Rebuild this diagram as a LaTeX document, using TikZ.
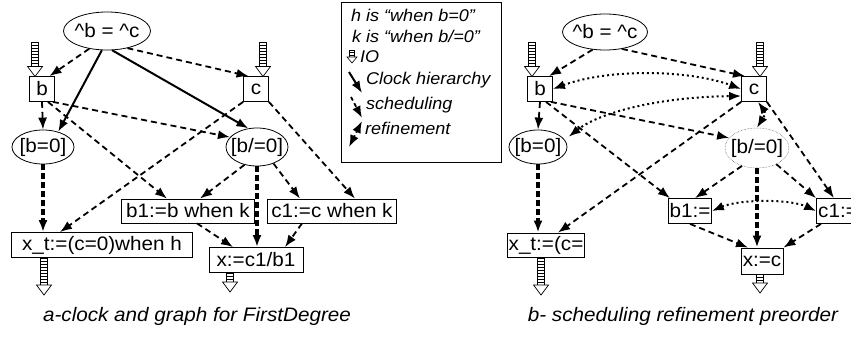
\documentclass[tikz,border=0pt]{standalone}
\usepackage{fontspec}
\setmainfont[FakeStretch=1.06]{Liberation Sans}
\usetikzlibrary{shapes.geometric,arrows.meta,calc}
\newcommand\ndfont{\fontsize{19.5}{21}\selectfont}
\newcommand\lgfont{\fontsize{17}{19}\selectfont\itshape}
\newcommand\capfont{\fontsize{19.5}{22}\selectfont\itshape}
\begin{document}
\begin{tikzpicture}[x=1pt,y=-1pt,
  lbl/.style={font=\ndfont, inner sep=1pt, line width=0.8pt, draw},
  rbox/.style={lbl, rectangle, minimum height=25pt},
  ell/.style={lbl, ellipse, inner sep=0pt},
  etext/.style={label={[font=\ndfont, inner sep=0pt]center:#1}},
  arrtip/.style={-{Latex[length=12pt,width=9pt]}},
  sched/.style={line width=1.8pt, dash pattern=on 6pt off 4pt, arrtip},
  clock/.style={line width=2pt, arrtip},
  heavy/.style={line width=3.5pt, dash pattern=on 6pt off 3pt, arrtip},
  refine/.style={line width=2pt, dash pattern=on 2pt off 3pt, {Latex[length=12pt,width=9pt]}-{Latex[length=12pt,width=9pt]}},
  lg/.style={font=\lgfont, inner sep=0pt, anchor=west},
  captext/.style={font=\capfont, inner sep=0pt},
  pics/io/.style={code={
    \pgfmathsetmacro\iotop{-#1}
    \draw[line width=0.6pt] (-3.5,\iotop) rectangle (3.5,-10);
    \foreach \yy in {-13,-16,...,\iotop} \draw[line width=0.6pt] (-3.5,\yy) -- (3.5,\yy);
    \draw[line width=0.7pt, fill=white] (-7.5,-10) -- (7.5,-10) -- (0,0) -- cycle;
  }}
]
\useasboundingbox (0,0) rectangle (851,337);
\clip (0,0) rectangle (851,337);

% ---------- left graph ----------
\node[ell, minimum width=87pt, minimum height=38pt, etext={\textasciicircum b = \textasciicircum c}] (lt) at (107,31) {};
\node[rbox, minimum width=25pt] (lb) at (42,89) {b};
\node[rbox, minimum width=25pt] (lc) at (256,89) {c};
\node[ell, minimum width=62pt, minimum height=34pt, etext={[b=0]}] (lh0) at (43,147) {};
\node[ell, minimum width=62pt, minimum height=38pt, etext={[b/=0]}] (lhn) at (257,147) {};
\node[rbox, minimum width=133pt, minimum height=24pt] (lb1) at (188,211) {b1:=b when k};
\node[rbox, minimum width=129pt, minimum height=24pt] (lc1) at (332,211) {c1:=c when k};
\node[rbox, minimum width=181pt] (lxt) at (102,245) {x\_t:=(c=0)when h};
\node[rbox, minimum width=94pt] (lx) at (256,260) {x:=c1/b1};

\draw[sched] (lt.225) -- (lb.60);
\draw[sched] (lt.320) -- (lc.120);
\draw[clock] (lt.255) -- (lh0.45);
\draw[clock] (lt.285) -- (lhn.115);
\draw[sched] (lb.south) -- (lh0.north);
\draw[sched] (lb.-50) -- (lhn.160);
\draw[sched] (lb.-65) -- ([xshift=-21pt]lb1.north);
\draw[sched] (lc.south west) -- ([xshift=-42pt]lxt.north);
\draw[sched] (lc.south east) -- ([xshift=23pt]lc1.north);
\draw[sched] (lhn.235) -- ([xshift=12pt]lb1.north);
\draw[sched] (lhn.-45) -- ([xshift=-32pt]lc1.north);
\draw[heavy] (lhn.south) -- (lhn.south |- lx.north);
\draw[heavy] (lh0.south) -- (lh0.south |- lxt.north);
\draw[sched] ([xshift=9pt]lb1.south) -- ([xshift=-23pt]lx.north);
\draw[sched] ([xshift=-30pt]lc1.south) -- ([xshift=29pt]lx.north);

\pic at (35,76.5) {io=34};
\pic at (263,76.5) {io=34};
\pic at (44,295) {io=37};
\pic at (230,292) {io=19};

% ---------- legend ----------
\node[draw, line width=0.8pt, minimum width=160pt, minimum height=160pt, inner sep=0pt] (leg) at (421,82) {};
\node[lg] (l1) at (351,15) {h is “when b=0”};
\node[lg] (l2) at (352,36) {k is “when b/=0”};
\node[lg] (l3) at (360,57) {IO};
\node[lg] (l4) at (366,80) {Clock hierarchy};
\node[lg] (l5) at (366,105) {scheduling};
\node[lg] (l6) at (365,128) {refinement};
\draw[line width=0.5pt] (349.5,50) rectangle (354.5,57);
\draw[line width=0.5pt] (349.5,52.5) -- (354.5,52.5) (349.5,55) -- (354.5,55);
\draw[line width=0.6pt, fill=white] (347,57) -- (357,57) -- (352,63) -- cycle;
\coordinate (c4a) at (349,72); \coordinate (c4b) at (362,93);
\coordinate (c5a) at (351,97); \coordinate (c5b) at (362,118);
\coordinate (c6a) at (362,121); \coordinate (c6b) at (349,147);
\draw[clock] (c4a) -- (c4b);
\draw[sched, dash pattern=on 4pt off 3pt] (c5a) -- (c5b);
\draw[refine] (c6a) -- (c6b);

% ---------- right graph ----------
\node[ell, minimum width=85pt, minimum height=36pt, etext={\textasciicircum b = \textasciicircum c}] (rt) at (605,32) {};
\node[rbox, minimum width=25pt] (rb) at (540,89) {b};
\node[rbox, minimum width=25pt] (rc) at (754,89) {c};
\node[ell, minimum width=58pt, minimum height=34pt, etext={[b=0]}] (rh0) at (538,147) {};
\node[ell, minimum width=64pt, minimum height=40pt, etext={[b/=0]}, line width=0.5pt, densely dotted, draw=black!70] (rhn) at (757,148) {};
\node[rbox, minimum width=43pt] (rb1) at (690,211) {b1:=};
\node[rbox, minimum width=43pt] (rc1) at (838,211) {c1:=};
\node[rbox, minimum width=77pt, minimum height=24pt] (rxt) at (546,245) {x\_t:=(c=};
\node[rbox, minimum width=42pt, minimum height=26pt] (rx) at (762,261) {x:=c};

\draw[sched] (rt.235) -- (rb.55);
\draw[sched] (rt.315) -- (rc.125);
\draw[sched] (rb.south) -- (rh0.north);
\draw[sched] (rb.-50) -- (rhn.160);
\draw[sched] (rb.-65) -- ([xshift=-20pt]rb1.north);
\draw[sched] (rc.south west) -- ([xshift=12pt]rxt.north);
\draw[sched] (rc.south east) -- ([xshift=-4pt]rc1.north);
\draw[sched] (rhn.230) -- ([xshift=5pt]rb1.north);
\draw[sched] (rhn.-40) -- (rc1.north west);
\draw[heavy] (rhn.south) -- (rhn.south |- rx.north);
\draw[heavy] (rh0.south) -- (rh0.south |- rxt.north);
\draw[sched] (rb1.south) -- ([xshift=-14pt]rx.north);
\draw[sched] ([xshift=-17pt]rc1.south) -- (rx.north east);

\draw[refine] (rb.east) .. controls (610,68) and (690,70) .. (rc.west);
\draw[refine, shorten <=5pt] (rh0.15) .. controls (600,112) and (660,97) .. ([yshift=-7pt]rc.west);
\draw[refine] ([xshift=4pt]rc.south) .. controls (766,113) .. (rhn.north);
\draw[refine] (rb1.east) .. controls (740,199) and (790,199) .. (rc1.west);

\pic at (532,76.5) {io=34};
\pic at (760,76.5) {io=34};
\pic at (541,295) {io=38};
\pic at (760,293) {io=19};

% ---------- captions ----------
\node[captext] (capa) at (197,316) {a-clock and graph for FirstDegree};
\node[captext] (capb) at (683,316) {b- scheduling refinement preorder};
\end{tikzpicture}
\end{document}
